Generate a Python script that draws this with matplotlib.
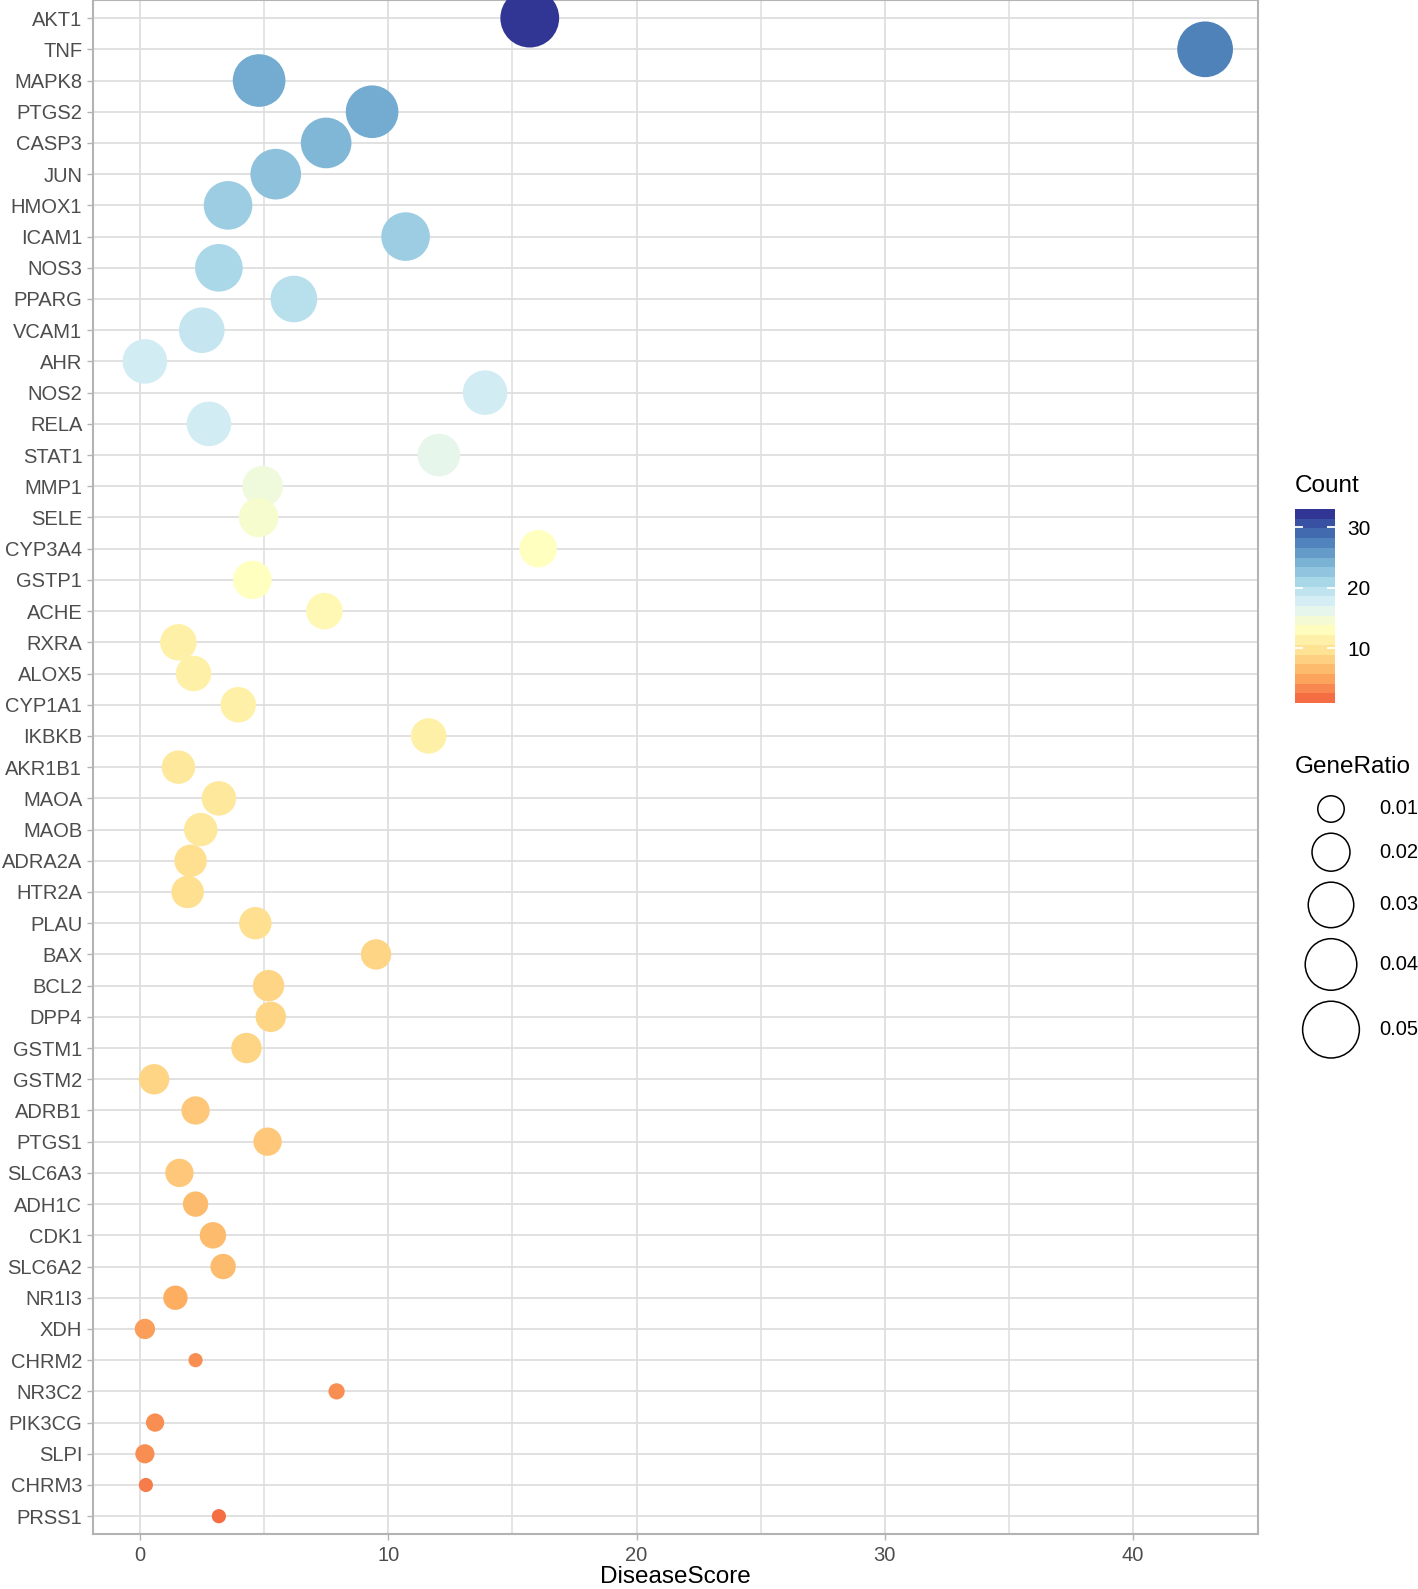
import numpy as np
import matplotlib
matplotlib.use("Agg")
import matplotlib.pyplot as plt
from matplotlib.colors import LinearSegmentedColormap, Normalize
from matplotlib.cm import ScalarMappable

plt.rcParams['font.family'] = ['Liberation Sans', 'DejaVu Sans']

# data, top row first
genes = ["AKT1", "TNF", "MAPK8", "PTGS2", "CASP3", "JUN", "HMOX1", "ICAM1", "NOS3",
         "PPARG", "VCAM1", "AHR", "NOS2", "RELA", "STAT1", "MMP1", "SELE", "CYP3A4",
         "GSTP1", "ACHE", "RXRA", "ALOX5", "CYP1A1", "IKBKB", "AKR1B1", "MAOA", "MAOB",
         "ADRA2A", "HTR2A", "PLAU", "BAX", "BCL2", "DPP4", "GSTM1", "GSTM2", "ADRB1",
         "PTGS1", "SLC6A3", "ADH1C", "CDK1", "SLC6A2", "NR1I3", "XDH", "CHRM2", "NR3C2",
         "PIK3CG", "SLPI", "CHRM3", "PRSS1"]
disease_score = [15.7, 42.9, 4.8, 9.35, 7.5, 5.47, 3.55, 10.7, 3.18,
                 6.2, 2.49, 0.2, 13.9, 2.78, 12.04, 4.94, 4.78, 16.04,
                 4.53, 7.43, 1.55, 2.16, 3.96, 11.63, 1.55, 3.18, 2.45,
                 2.04, 1.92, 4.65, 9.51, 5.18, 5.27, 4.29, 0.57, 2.24,
                 5.14, 1.59, 2.24, 2.94, 3.35, 1.43, 0.2, 2.24, 7.92,
                 0.61, 0.2, 0.24, 3.18]
count = [33, 28, 25, 25, 24, 23, 22, 22, 21,
         20, 19, 18, 18, 18, 16, 15, 14, 13,
         13, 12, 11, 11, 11, 11, 10, 10, 10,
         9, 9, 9, 8, 8, 8, 8, 8, 7,
         7, 7, 6, 6, 6, 5, 4, 3, 3,
         3, 3, 2, 1]
gene_ratio = [0.0543, 0.0479, 0.0420, 0.0420, 0.0384, 0.0384, 0.0349, 0.0349, 0.0333,
              0.0317, 0.0301, 0.0286, 0.0286, 0.0286, 0.0258, 0.0231, 0.0218, 0.0195,
              0.0206, 0.0184, 0.0184, 0.0173, 0.0173, 0.0173, 0.0153, 0.0163, 0.0153,
              0.0144, 0.0144, 0.0144, 0.0127, 0.0135, 0.0127, 0.0127, 0.0127, 0.0112,
              0.0112, 0.0112, 0.0094, 0.0100, 0.0094, 0.0089, 0.0073, 0.0064, 0.0065,
              0.0068, 0.0070, 0.0064, 0.0064]
legend_ratios = [0.01, 0.02, 0.03, 0.04, 0.05]
xticks = [0, 10, 20, 30, 40]
cbar_ticks = [10, 20, 30]

W, H = 1418, 1589
cmap = LinearSegmentedColormap.from_list(
    "cnt", ["#F46D43", "#FDAE61", "#FEE090", "#FFFFBF", "#E0F3F8",
            "#ABD9E9", "#74ADD1", "#4575B4", "#313695"])
norm = Normalize(vmin=min(count), vmax=max(count))

g_lo, g_hi = min(gene_ratio), max(gene_ratio)
d_lo, d_hi = 14.2, 58.8  # circle diameters in px


def diam(g):
    t = np.clip((np.asarray(g) - g_lo) / (g_hi - g_lo), 0, 1)
    return d_lo + (d_hi - d_lo) * np.sqrt(t)


def area_pt(g):
    return (diam(g) * 0.72) ** 2


fig = plt.figure(figsize=(W / 100, H / 100), dpi=100)
ax = fig.add_axes([93 / W, 1 - 1534 / H, (1258 - 93) / W, 1534 / H])

ypos = np.arange(len(genes))
ax.scatter(disease_score, ypos, s=area_pt(gene_ratio), c=count, cmap=cmap, norm=norm,
           linewidths=0, zorder=3)

ax.set_xlim(-1.89, 45.03)
ax.set_ylim(len(genes) - 1 + 0.57, -0.58)
ax.set_yticks(ypos)
ax.set_yticklabels(genes)
ax.set_xticks(xticks)
ax.set_xticks([5, 15, 25, 35], minor=True)
ax.grid(True, which="major", color="#DEDEDE", lw=1.3, zorder=0)
ax.grid(True, which="minor", axis="x", color="#DEDEDE", lw=1.1, zorder=0)
ax.set_axisbelow(True)
for sp in ax.spines.values():
    sp.set_color("#B3B3B3")
    sp.set_linewidth(1.5)
ax.tick_params(axis="both", which="major", color="#B3B3B3", length=4.5, width=1.0,
               labelsize=14.5, labelcolor="#4D4D4D")
ax.tick_params(axis="y", pad=3.2)
ax.tick_params(axis="x", pad=4)
ax.tick_params(which="minor", length=0)
ax.set_xlabel("DiseaseScore", fontsize=17.5, color="black", labelpad=1)

# colour legend
cax = fig.add_axes([1295 / W, 1 - 703 / H, 40 / W, 194 / H])
sm = ScalarMappable(norm=norm, cmap=cmap.resampled(20))
cb = fig.colorbar(sm, cax=cax, ticks=cbar_ticks)
cb.outline.set_visible(False)
cax.tick_params(axis="y", direction="in", color="white", length=5.5, width=1.3,
                left=True, right=True, labelsize=15, labelcolor="black", pad=9)
fig.text(1295 / W, 1 - 486 / H, "Count", fontsize=17.5, va="center", ha="left")

# size legend
lax = fig.add_axes([0, 0, 1, 1], facecolor="none")
lax.set_xlim(0, W)
lax.set_ylim(H, 0)
lax.axis("off")
fig.text(1295 / W, 1 - 767 / H, "GeneRatio", fontsize=17.5, va="center", ha="left")
dl = diam(legend_ratios)
yc = 809.0
for i, g in enumerate(legend_ratios):
    if i > 0:
        yc += (dl[i - 1] + dl[i]) / 2 + 11.0
    lax.scatter([1331], [yc], s=area_pt(g), facecolors="none", edgecolors="black",
                linewidths=1.1)
    lax.text(1379, yc, f"{g:.2f}", fontsize=14.5, va="center", ha="left")

fig.savefig("out.png", dpi=100)
